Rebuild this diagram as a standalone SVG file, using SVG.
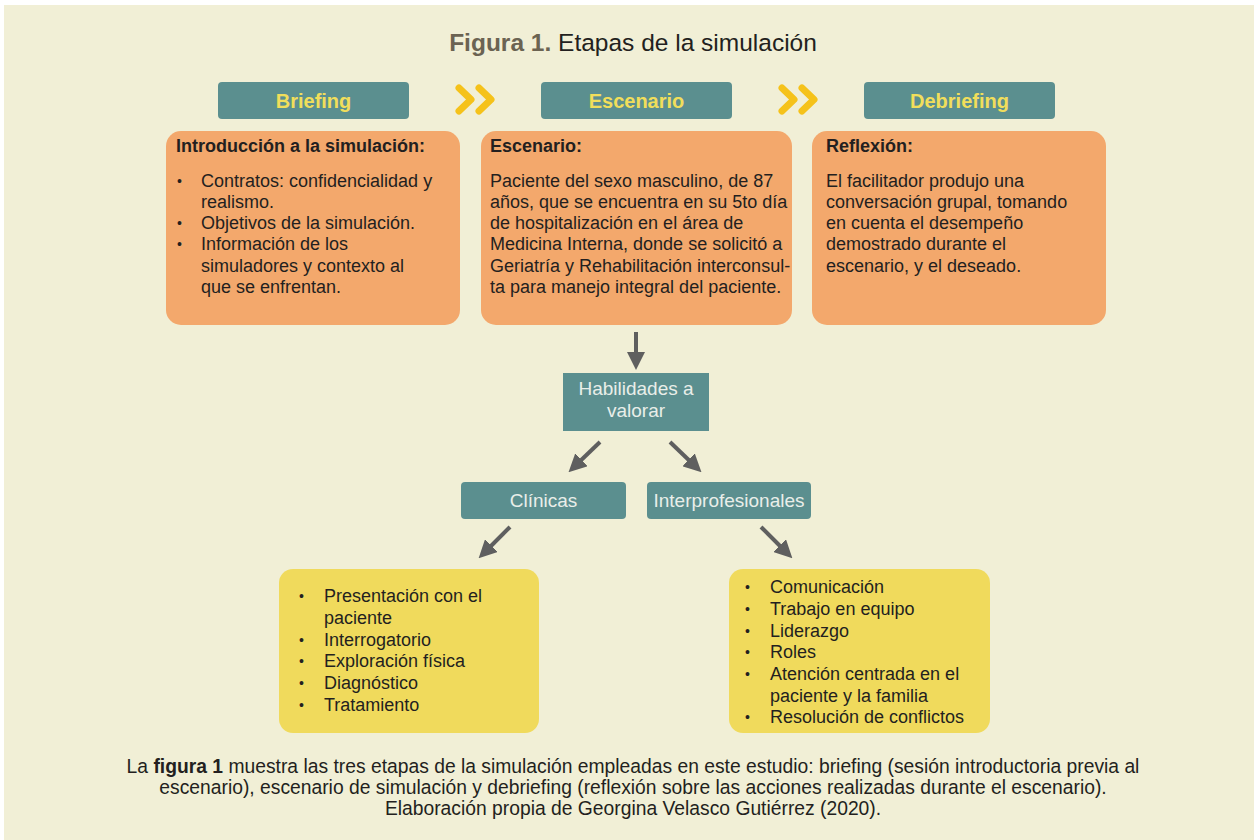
<svg xmlns="http://www.w3.org/2000/svg" width="1254" height="840" viewBox="0 0 1254 840">
<defs>
<style>
text{font-family:"Liberation Sans",Arial,sans-serif;fill:#231F20}
.hdr{fill:#5B8F8F}
.hdrt{font-size:20px;font-weight:bold;fill:#F1DE5B;text-anchor:middle}
.org{fill:#F3A86C}
.yel{fill:#F0DA5C}
.bt{font-size:18px}
.bu{font-size:14px}
.bh{font-size:18px;font-weight:bold}
.wt{font-size:19px;fill:#E9EEE9;text-anchor:middle}
.cap{font-size:19.3px;text-anchor:middle}
.arr{stroke:#5F5F5F;stroke-width:4;fill:none}
.chev{stroke:#F5C21A;stroke-width:7;fill:none;stroke-linecap:round;stroke-linejoin:round}
</style>
<marker id="ah" viewBox="0 0 10 10" refX="5" refY="5" markerWidth="4.5" markerHeight="4.5" orient="auto" markerUnits="strokeWidth">
<path d="M0,0 L10,5 L0,10 Z" fill="#5F5F5F"/>
</marker>
</defs>
<rect x="0" y="0" width="1254" height="840" fill="#FFFFFF"/>
<rect x="4" y="5" width="1250" height="835" fill="#F1EFD6"/>

<g id="title">
<text x="633" y="51" font-size="24.5" text-anchor="middle"><tspan font-weight="bold" fill="#6B6352">Figura 1.</tspan> Etapas de la simulación</text>
</g>

<g id="briefing">
<rect class="hdr" x="218" y="82" width="191" height="37" rx="4"/>
<text class="hdrt" x="313.5" y="108">Briefing</text>
</g>
<g id="escenario">
<rect class="hdr" x="541" y="82" width="191" height="37" rx="4"/>
<text class="hdrt" x="636.5" y="108">Escenario</text>
</g>
<g id="debriefing">
<rect class="hdr" x="864" y="82" width="191" height="37" rx="4"/>
<text class="hdrt" x="959.5" y="108">Debriefing</text>
</g>

<g id="chevrons">
<path class="chev" d="M459,88 L471,99.5 L459,111 M479,88 L491,99.5 L479,111"/>
<path class="chev" d="M782,88 L794,99.5 L782,111 M802,88 L814,99.5 L802,111"/>
</g>

<g id="intro">
<rect class="org" x="166" y="131" width="294" height="194" rx="15"/>
<text class="bh" x="176" y="152">Introducción a la simulación:</text>
<text class="bu" x="177" y="186">•</text>
<text class="bt" x="201" y="187">Contratos: confidencialidad y</text>
<text class="bt" x="201" y="208">realismo.</text>
<text class="bu" x="177" y="228">•</text>
<text class="bt" x="201" y="229">Objetivos de la simulación.</text>
<text class="bu" x="177" y="249">•</text>
<text class="bt" x="201" y="250">Información de los</text>
<text class="bt" x="201" y="272">simuladores y contexto al</text>
<text class="bt" x="201" y="293">que se enfrentan.</text>
</g>

<g id="escenario-box">
<rect class="org" x="481" y="131" width="311" height="194" rx="15"/>
<text class="bh" x="490" y="152">Escenario:</text>
<text class="bt" x="490" y="187">Paciente del sexo masculino, de 87</text>
<text class="bt" x="490" y="208">años, que se encuentra en su 5to día</text>
<text class="bt" x="490" y="229">de hospitalización en el área de</text>
<text class="bt" x="490" y="250">Medicina Interna, donde se solicitó a</text>
<text class="bt" x="490" y="272">Geriatría y Rehabilitación interconsul-</text>
<text class="bt" x="490" y="293">ta para manejo integral del paciente.</text>
</g>

<g id="reflexion">
<rect class="org" x="812" y="131" width="294" height="194" rx="15"/>
<text class="bh" x="826" y="152">Reflexión:</text>
<text class="bt" x="826" y="187">El facilitador produjo una</text>
<text class="bt" x="826" y="208">conversación grupal, tomando</text>
<text class="bt" x="826" y="229">en cuenta el desempeño</text>
<text class="bt" x="826" y="250">demostrado durante el</text>
<text class="bt" x="826" y="272">escenario, y el deseado.</text>
</g>

<g id="habilidades">
<rect class="hdr" x="563" y="373" width="146" height="58"/>
<text class="wt" x="636" y="395">Habilidades a</text>
<text class="wt" x="636" y="417">valorar</text>
</g>

<g id="clinicas">
<rect class="hdr" x="461" y="482" width="165" height="37" rx="4"/>
<text class="wt" x="543.5" y="507">Clínicas</text>
</g>
<g id="interprofesionales">
<rect class="hdr" x="647" y="482" width="164" height="37" rx="4"/>
<text class="wt" x="729" y="507">Interprofesionales</text>
</g>

<g id="clinicas-list">
<rect class="yel" x="279" y="569" width="260" height="164" rx="14"/>
<text class="bu" x="299" y="601">•</text>
<text class="bt" x="324" y="602">Presentación con el</text>
<text class="bt" x="324" y="624">paciente</text>
<text class="bu" x="299" y="645">•</text>
<text class="bt" x="324" y="646">Interrogatorio</text>
<text class="bu" x="299" y="666">•</text>
<text class="bt" x="324" y="667">Exploración física</text>
<text class="bu" x="299" y="688">•</text>
<text class="bt" x="324" y="689">Diagnóstico</text>
<text class="bu" x="299" y="710">•</text>
<text class="bt" x="324" y="711">Tratamiento</text>
</g>

<g id="inter-list">
<rect class="yel" x="729" y="569" width="261" height="164" rx="14"/>
<text class="bu" x="745" y="592">•</text>
<text class="bt" x="770" y="593">Comunicación</text>
<text class="bu" x="745" y="614">•</text>
<text class="bt" x="770" y="615">Trabajo en equipo</text>
<text class="bu" x="745" y="636">•</text>
<text class="bt" x="770" y="637">Liderazgo</text>
<text class="bu" x="745" y="657">•</text>
<text class="bt" x="770" y="658">Roles</text>
<text class="bu" x="745" y="679">•</text>
<text class="bt" x="770" y="680">Atención centrada en el</text>
<text class="bt" x="770" y="702">paciente y la familia</text>
<text class="bu" x="745" y="722">•</text>
<text class="bt" x="770" y="723">Resolución de conflictos</text>
</g>

<g id="connectors">
<line class="arr" x1="636" y1="332" x2="636" y2="361" marker-end="url(#ah)"/>
<line class="arr" x1="600" y1="442" x2="575" y2="466" marker-end="url(#ah)"/>
<line class="arr" x1="670" y1="442" x2="695" y2="466" marker-end="url(#ah)"/>
<line class="arr" x1="510" y1="527" x2="485" y2="552" marker-end="url(#ah)"/>
<line class="arr" x1="761" y1="527" x2="786" y2="552" marker-end="url(#ah)"/>
</g>

<g id="caption">
<text class="cap" x="633" y="773">La <tspan font-weight="bold">figura 1</tspan> muestra las tres etapas de la simulación empleadas en este estudio: briefing (sesión introductoria previa al</text>
<text class="cap" x="633" y="794">escenario), escenario de simulación y debriefing (reflexión sobre las acciones realizadas durante el escenario).</text>
<text class="cap" x="633" y="815">Elaboración propia de Georgina Velasco Gutiérrez (2020).</text>
</g>
</svg>
